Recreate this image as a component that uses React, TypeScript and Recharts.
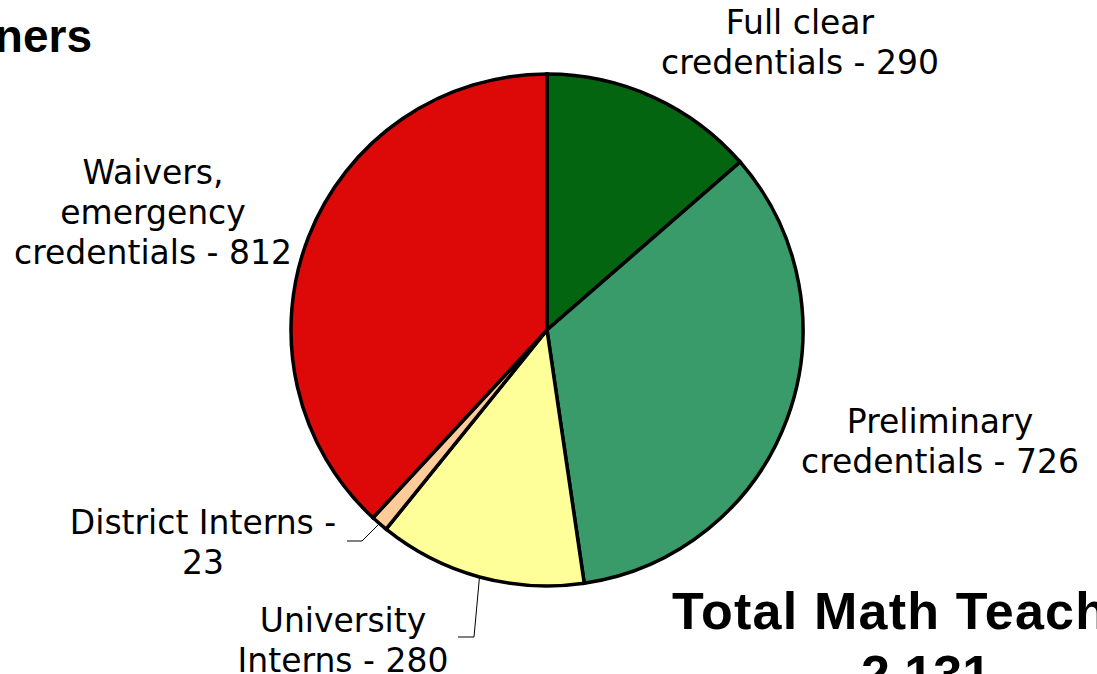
import React from 'react';
import { PieChart, Pie, Cell } from 'recharts';

const categories = [
  'Full clear credentials',
  'Preliminary credentials',
  'University Interns',
  'District Interns',
  'Waivers, emergency credentials',
];
const counts = [290, 726, 280, 23, 812];
const labelLines = [
  ['Full clear', 'credentials - 290'],
  ['Preliminary', 'credentials - 726'],
  ['University', 'Interns - 280'],
  ['District Interns -', '23'],
  ['Waivers,', 'emergency', 'credentials - 812'],
];
const colors = ['#03650f', '#389b69', '#ffff99', '#ffcc99', '#dd0808'];
const totalLabel = '2,131';

const data = categories.map((name, i) => ({ name, value: counts[i] }));

// where each label block sits (centre x, first baseline) and leader elbow, if any
const labelLayout = [
  { x: 800, y: 34 },
  { x: 940, y: 433 },
  { x: 343, y: 632, elbow: [474, 637], end: 458 },
  { x: 203, y: 534, elbow: [362, 541], end: 347 },
  { x: 153, y: 184 },
];

const RAD = Math.PI / 180;

const renderLabel = (props: any) => {
  const { cx, cy, midAngle, outerRadius, index } = props;
  const lay = labelLayout[index];
  const lines = labelLines[index];
  let leader = null;
  if (lay.elbow) {
    const sx = cx + outerRadius * Math.cos(-midAngle * RAD);
    const sy = cy + outerRadius * Math.sin(-midAngle * RAD);
    leader = (
      <polyline
        points={`${sx},${sy} ${lay.elbow[0]},${lay.elbow[1]} ${lay.end},${lay.elbow[1]}`}
        fill="none"
        stroke="#000"
        strokeWidth={1}
      />
    );
  }
  return (
    <g key={`lbl-${index}`}>
      {leader}
      <text
        x={lay.x}
        y={lay.y}
        textAnchor="middle"
        fontFamily="DejaVu Sans, Verdana, sans-serif"
        fontSize={33}
        fill="#000"
      >
        {lines.map((t, i) => (
          <tspan key={i} x={lay.x} y={lay.y + i * 40}>
            {t}
          </tspan>
        ))}
      </text>
    </g>
  );
};

export default function App() {
  return (
    <div style={{ position: 'absolute', left: 0, top: 0, width: 1097, height: 674, background: '#fff', overflow: 'hidden' }}>
      <PieChart width={1097} height={674} margin={{ top: 0, right: 0, bottom: 0, left: 0 }}>
        <Pie
          data={data}
          dataKey="value"
          nameKey="name"
          cx={547}
          cy={330}
          outerRadius={256}
          startAngle={90}
          endAngle={-270}
          stroke="#000"
          strokeWidth={3.5}
          label={renderLabel}
          labelLine={false}
          isAnimationActive={false}
        >
          {data.map((d, i) => (
            <Cell key={d.name} fill={colors[i]} />
          ))}
        </Pie>
      </PieChart>
      <svg
        width={1097}
        height={674}
        style={{ position: 'absolute', left: 0, top: 0, pointerEvents: 'none' }}
      >
        <text x={92} y={52} textAnchor="end" fontFamily="Liberation Sans, Arial, sans-serif" fontWeight="bold" fontSize={46} fill="#000">
          ners
        </text>
        <text x={672} y={629} letterSpacing={1.2} fontFamily="Liberation Sans, Arial, sans-serif" fontWeight="bold" fontSize={52} fill="#000">
          Total Math Teachers
        </text>
        <text x={926} y={692} textAnchor="middle" fontFamily="Liberation Sans, Arial, sans-serif" fontWeight="bold" fontSize={52} fill="#000">
          {totalLabel}
        </text>
      </svg>
    </div>
  );
}
